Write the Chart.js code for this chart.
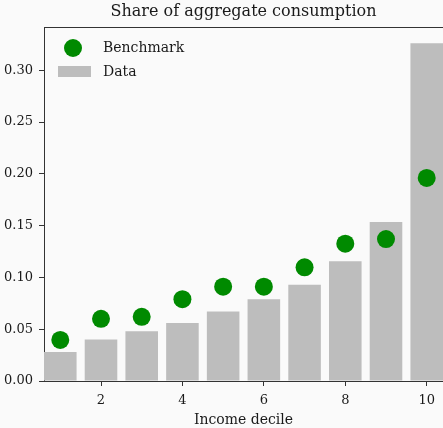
<!DOCTYPE html>
<html>
<head>
<meta charset="utf-8">
<script src="https://cdn.jsdelivr.net/npm/chart.js@4/dist/chart.umd.min.js"></script>
<style>
  html, body { margin: 0; padding: 0; background: #fafafa; }
  canvas { display: block; }
</style>
</head>
<body>
<canvas id="chart" width="443" height="428"></canvas>
<script>
// datos
const deciles = [1, 2, 3, 4, 5, 6, 7, 8, 9, 10];
const benchmark = [0.0396, 0.060, 0.062, 0.079, 0.091, 0.091, 0.1097, 0.1325, 0.137, 0.196];
const dataShare = [0.028, 0.040, 0.048, 0.056, 0.067, 0.079, 0.093, 0.1155, 0.1535, 0.326];
const xTicks = [2, 4, 6, 8, 10];
const yTicks = [0, 0.05, 0.10, 0.15, 0.20, 0.25, 0.30];

const SERIF = "'DejaVu Serif', serif";
const INK = "#1a1a1a";
const AXIS = "#333333";

// leyenda dibujada dentro del area del grafico, arriba a la izquierda
const insideLegend = {
  id: "insideLegend",
  afterDraw(chart) {
    const { ctx, chartArea } = chart;
    const x0 = chartArea.left, y0 = chartArea.top;
    const ds = chart.data.datasets;
    ctx.save();
    // spine de arriba
    ctx.strokeStyle = AXIS;
    ctx.lineWidth = 1;
    ctx.beginPath();
    ctx.moveTo(x0, y0 + 0.5);
    ctx.lineTo(chartArea.right, y0 + 0.5);
    ctx.stroke();

    ctx.font = "14px " + SERIF;
    ctx.fillStyle = INK;
    ctx.textBaseline = "middle";
    ctx.textAlign = "left";

    // Benchmark
    ctx.fillStyle = ds[0].backgroundColor;
    ctx.beginPath();
    ctx.arc(x0 + 29, y0 + 21, 9, 0, Math.PI * 2);
    ctx.fill();
    ctx.fillStyle = INK;
    ctx.fillText(ds[0].label, x0 + 59, y0 + 21);

    // Data
    ctx.fillStyle = ds[1].backgroundColor;
    ctx.fillRect(x0 + 14, y0 + 39, 33, 11);
    ctx.fillStyle = INK;
    ctx.fillText(ds[1].label, x0 + 59, y0 + 45);
    ctx.restore();
  }
};

const ctx = document.getElementById("chart").getContext("2d");

new Chart(ctx, {
  type: "bar",
  data: {
    datasets: [
      {
        type: "scatter",
        label: "Benchmark",
        data: deciles.map((d, i) => ({ x: d, y: benchmark[i] })),
        backgroundColor: "#008a00",
        borderColor: "#008a00",
        pointRadius: 9,
        pointHoverRadius: 9,
        borderWidth: 0
      },
      {
        type: "bar",
        label: "Data",
        data: deciles.map((d, i) => ({ x: d, y: dataShare[i] })),
        backgroundColor: "#bdbdbd",
        barPercentage: 1,
        categoryPercentage: 0.8
      }
    ]
  },
  options: {
    responsive: false,
    animation: false,
    layout: { padding: 0, autoPadding: false },
    plugins: {
      legend: { display: false },
      tooltip: { enabled: false },
      title: {
        display: true,
        text: "Share of aggregate consumption",
        fullSize: false,
        color: INK,
        font: { family: SERIF, size: 16, weight: "normal" },
        padding: { top: 2.5, bottom: 5.3 }
      }
    },
    scales: {
      x: {
        type: "linear",
        min: 0.6,
        max: 10.4,
        offset: false,
        afterBuildTicks: (scale) => { scale.ticks = xTicks.map(v => ({ value: v })); },
        afterFit: (scale) => {
          scale.height = 47;
          scale.paddingLeft = 0;
          scale.paddingRight = 0;
        },
        grid: { display: true, drawOnChartArea: false, offset: false, tickLength: 5, tickColor: AXIS },
        border: { display: true, color: AXIS, width: 1 },
        ticks: { color: INK, font: { family: SERIF, size: 13 }, padding: 7, maxRotation: 0 },
        title: {
          display: true,
          text: "Income decile",
          color: INK,
          font: { family: SERIF, size: 14 },
          padding: { top: 0, bottom: -1 }
        }
      },
      y: {
        min: 0,
        max: 0.3417,
        afterBuildTicks: (scale) => { scale.ticks = yTicks.map(v => ({ value: v })); },
        afterFit: (scale) => { scale.width = 44; },
        grid: { display: true, drawOnChartArea: false, tickLength: 5, tickColor: AXIS },
        border: { display: true, color: AXIS, width: 1 },
        ticks: {
          color: INK,
          font: { family: SERIF, size: 13 },
          padding: 6,
          callback: function (value) {
            return Number(value).toFixed(2);
          }
        }
      }
    }
  },
  plugins: [insideLegend]
});
</script>
</body>
</html>
